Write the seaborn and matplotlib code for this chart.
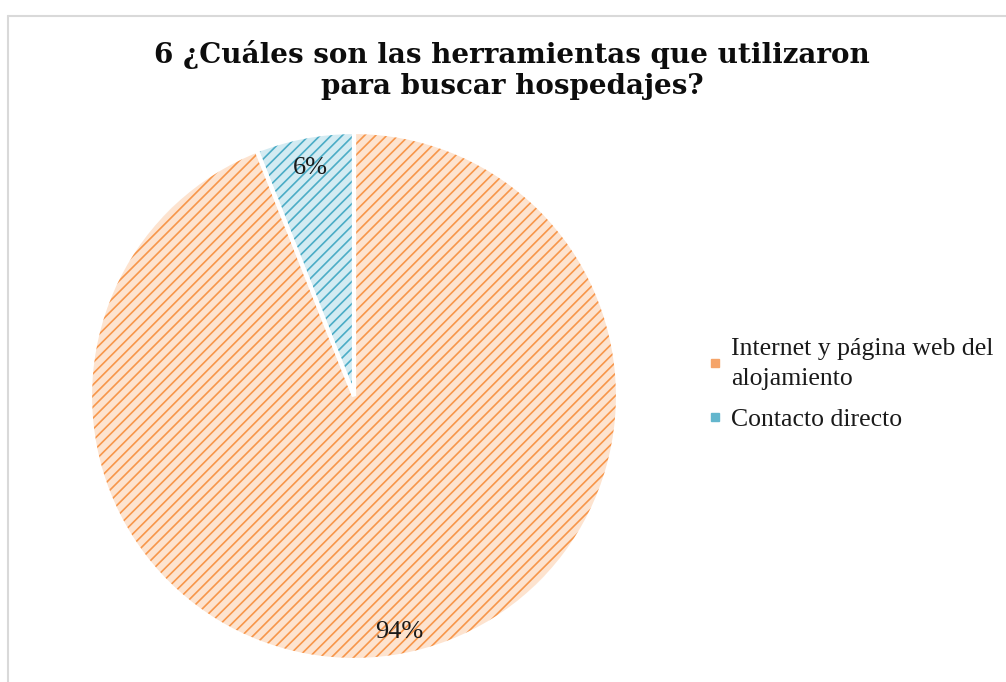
import matplotlib
matplotlib.use("Agg")
import matplotlib.pyplot as plt
import seaborn as sns
import numpy as np
from matplotlib.lines import Line2D

# data
categories = ["Internet y página web del\nalojamiento", "Contacto directo"]
shares = [94, 6]
title = "6 ¿Cuáles son las herramientas que utilizaron\npara buscar hospedajes?"

face_colors = ["#FDE3CF", "#D3EBF2"]
hatch_colors = ["#F7964A", "#4BACC6"]
legend_colors = ["#F5A469", "#63B6CD"]
label_dist = [0.91, 0.88]

sns.set_theme(style="white")
plt.rcParams["hatch.linewidth"] = 1.2

W, H = 1006, 682
fig = plt.figure(figsize=(W / 100, H / 100), dpi=100)

# pie geometry in pixels
cx, cy, r = 354, 396, 264
ax = fig.add_axes([(cx - r) / W, (H - cy - r) / H, 2 * r / W, 2 * r / H])

# first pass: hatched fill
wedges, _ = ax.pie(shares, startangle=90, counterclock=False,
                   colors=face_colors, radius=1,
                   wedgeprops=dict(linewidth=0))
for w, hc in zip(wedges, hatch_colors):
    w.set_hatch("///")
    w.set_edgecolor(hc)
    w.set_linewidth(0)

# second pass: white borders and labels
wedges2, _, autotexts = ax.pie(shares, startangle=90, counterclock=False,
                               colors=["none", "none"], radius=1,
                               autopct="%d%%", pctdistance=0.9,
                               wedgeprops=dict(linewidth=3, edgecolor="white"),
                               textprops=dict(fontsize=19, family="Liberation Serif",
                                              color="#1a1a1a"))
# move each label to its own distance from the centre
for w, t, d in zip(wedges2, autotexts, label_dist):
    ang = np.deg2rad((w.theta1 + w.theta2) / 2)
    t.set_position((d * np.cos(ang), d * np.sin(ang)))

ax.set_xlim(-1, 1)
ax.set_ylim(-1, 1)
ax.set_aspect("equal")
ax.axis("off")

fig.text(512 / W, 1 - 70 / H, title, ha="center", va="center",
         fontsize=20, fontweight="bold", family="DejaVu Serif",
         color="#0d0d0d", linespacing=1.2)

handles = [Line2D([], [], marker="s", linestyle="none", markersize=6,
                  markerfacecolor=c, markeredgecolor=c) for c in legend_colors]
leg = fig.legend(handles, categories, loc="upper left",
                 bbox_to_anchor=(707 / W, 1 - 338 / H), frameon=False,
                 prop=dict(family="Liberation Serif", size=18.5),
                 handlelength=0.6, handletextpad=0.35, labelspacing=0.7,
                 borderaxespad=0, borderpad=0)
for t in leg.get_texts():
    t.set_linespacing(1.45)
    t.set_color("#1a1a1a")

# outer chart border (left and top visible)
fig.add_artist(Line2D([8 / W, 8 / W], [0, 1 - 16 / H], transform=fig.transFigure,
                      color="#D9D9D9", linewidth=1.5))
fig.add_artist(Line2D([8 / W, 1], [1 - 16 / H, 1 - 16 / H], transform=fig.transFigure,
                      color="#D9D9D9", linewidth=1.5))

fig.savefig("out.png", dpi=100, facecolor="white")
